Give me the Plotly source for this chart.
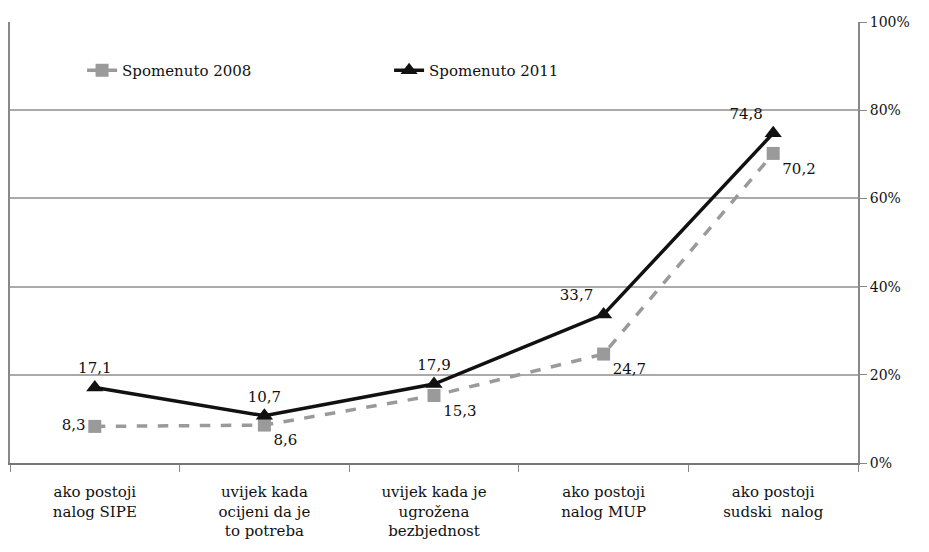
import plotly.graph_objects as go

categories = [
    "ako postoji<br>nalog SIPE",
    "uvijek kada<br>ocijeni da je<br>to potreba",
    "uvijek kada je<br>ugrožena<br>bezbjednost",
    "ako postoji<br>nalog MUP",
    "ako postoji<br>sudski  nalog",
]
values_2008 = [8.3, 8.6, 15.3, 24.7, 70.2]
values_2011 = [17.1, 10.7, 17.9, 33.7, 74.8]
pos_2008 = ["middle left", "bottom right", "bottom right", "bottom right", "bottom right"]
pos_2011 = ["top center", "top center", "top center", "top left", "top left"]
y_ticks = [0, 20, 40, 60, 80, 100]
y_labels = ["0%", "20%", "40%", "60%", "80%", "100%"]


def fmt(v):
    return f"{v:.1f}".replace(".", ",")


FONT = "DejaVu Serif"

fig = go.Figure()
fig.add_trace(go.Scatter(
    x=categories, y=values_2008, name="Spomenuto 2008",
    mode="lines+markers+text",
    line=dict(color="#9a9a9a", width=3.5, dash="dash"),
    marker=dict(symbol="square", size=13, color="#9a9a9a"),
    text=[fmt(v) for v in values_2008], textposition=pos_2008,
    textfont=dict(family=FONT, size=15, color="#111111"),
))
fig.add_trace(go.Scatter(
    x=categories, y=values_2011, name="Spomenuto 2011",
    mode="lines+markers+text",
    line=dict(color="#111111", width=3.5),
    marker=dict(symbol="triangle-up", size=15, color="#111111"),
    text=[fmt(v) for v in values_2011], textposition=pos_2011,
    textfont=dict(family=FONT, size=15, color="#111111"),
))

fig.update_layout(
    width=921, height=544,
    margin=dict(l=2, r=71, t=14, b=89, autoexpand=False),
    paper_bgcolor="white", plot_bgcolor="white",
    font=dict(family=FONT, size=15, color="#111111"),
    legend=dict(orientation="h", x=0.085, y=0.89, xanchor="left", yanchor="middle",
                bgcolor="rgba(0,0,0,0)", font=dict(family=FONT, size=15),
                entrywidth=262, entrywidthmode="pixels", traceorder="normal"),
    xaxis=dict(
        type="category", range=[-0.5, 4.5],
        tickson="boundaries", ticks="outside", ticklen=7, tickcolor="#888",
        showline=True, linecolor="#777", linewidth=2,
        showgrid=False, tickfont=dict(family=FONT, size=15),
        ticklabelstandoff=14, zeroline=False,
    ),
    yaxis=dict(
        range=[0, 100], tickvals=y_ticks, ticktext=y_labels,
        side="right", ticks="outside", ticklen=7, tickcolor="#888",
        showline=True, linecolor="#888", linewidth=2, mirror=True,
        showgrid=True, gridcolor="#aaaaaa", gridwidth=1.5,
        zeroline=False, tickfont=dict(family=FONT, size=14),
    ),
)

fig.write_html("out.html")
